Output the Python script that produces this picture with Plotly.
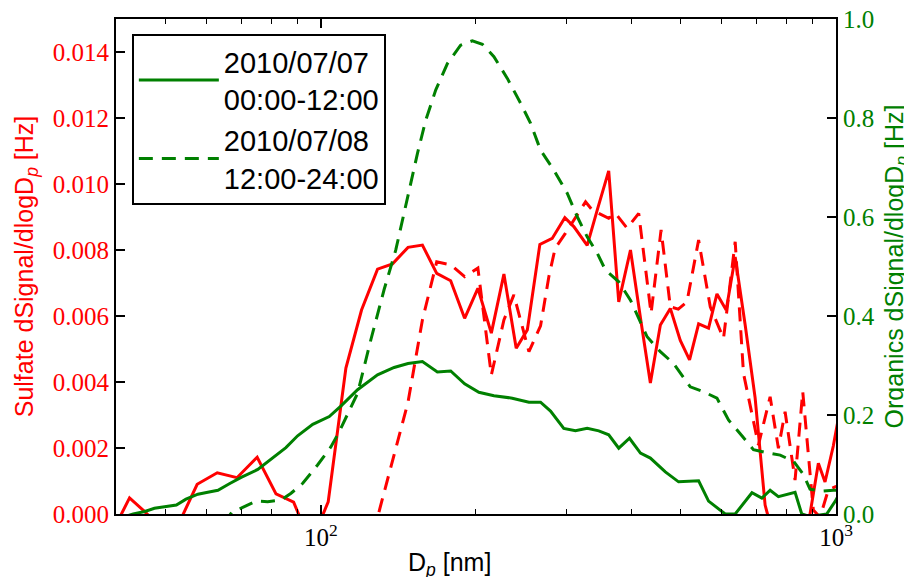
import plotly.graph_objects as go

# Sulfate dSignal/dlogDp [Hz], 2010/07/07 00:00-12:00 (left axis)
d_so4_day1 = [39.2, 42.5, 45.5, 49.4, 53.3, 57.5, 62.9, 68.7, 75.2, 81.8, 88.5, 95.6,
              103.3, 111.8, 119.9, 128.8, 137.7, 147.6, 157.4, 167.8, 178.6, 190.1,
              201.7, 214.2, 226.6, 239.4, 251.6, 266.1, 281.2, 297.5, 309.7, 328.8,
              344.3, 362.0, 378.6, 399.0, 417.2, 436.1, 456.0, 476.8, 498.5, 519.6,
              541.1, 565.7, 587.3, 612.1, 637.2, 666.3, 696.6, 728.4, 771.9, 814.4,
              855.3, 890.4, 924.2, 952.1, 988.0, 1027.1]
so4_day1 = [-0.0006, 0.00049, 0.00007, -0.0005, -0.0002, 0.00090, 0.00125, 0.00110,
            0.00172, 0.00061, 0.00036, -0.0009, 0.00037, 0.00442, 0.00618, 0.00742,
            0.00758, 0.00808, 0.00815, 0.00729, 0.00707, 0.00593, 0.00684, 0.00548,
            0.00727, 0.00502, 0.00558, 0.00817, 0.00835, 0.00898, 0.00871, 0.00814,
            0.00924, 0.01040, 0.00643, 0.00800, 0.00594, 0.00397, 0.00573, 0.00623,
            0.00526, 0.00467, 0.00576, 0.00563, 0.00667, 0.00618, 0.00779, 0.00573,
            0.00352, 0.00027, -0.0012, -0.0015, -0.0008, 0.0000, 0.00154, 0.00097,
            0.00206, 0.0035]

# Sulfate, 2010/07/08 12:00-24:00 (left axis)
d_so4_day2 = [111.8, 119.9, 128.8, 137.7, 147.6, 157.4, 167.8, 178.6, 190.1, 201.7,
              214.2, 226.6, 236.9, 253.4, 266.9, 277.0, 284.9, 298.4, 309.7, 326.4,
              336.3, 362.0, 373.1, 393.0, 414.0, 437.5, 457.5, 476.8, 494.1, 513.6,
              541.1, 570.0, 604.8, 637.2, 661.3, 707.0, 744.9, 773.0, 796.5, 832.8,
              861.8, 903.6, 931.1, 966.2, 995.5, 1027.1]
so4_day2 = [-0.004, -0.002, -0.0001, 0.00158, 0.00339, 0.00588, 0.00764, 0.00755,
            0.00719, 0.00745, 0.00421, 0.00588, 0.00664, 0.00492, 0.00570, 0.00719,
            0.00805, 0.00851, 0.00891, 0.00946, 0.00921, 0.00896, 0.00911, 0.00866,
            0.00911, 0.00608, 0.00861, 0.00628, 0.00621, 0.00643, 0.00830, 0.00628,
            0.00532, 0.00825, 0.00426, 0.00209, 0.00355, 0.00199, 0.00310, 0.00103,
            0.00371, 0.00012, -0.0001, 0.00073, 0.00082, 0.0009]

# Organics dSignal/dlogDp [Hz], 2010/07/07 00:00-12:00 (right axis)
d_org_day1 = [40.2, 43.2, 45.5, 47.5, 49.7, 52.4, 54.7, 57.7, 60.3, 63.1, 66.4, 70.0,
              75.4, 81.2, 85.5, 90.1, 96.4, 103.8, 109.3, 117.8, 128.8, 138.7, 147.6,
              157.4, 168.3, 178.6, 190.1, 202.6, 216.7, 235.2, 253.4, 266.9, 279.1,
              296.1, 312.0, 328.8, 346.3, 362.0, 378.6, 397.2, 417.2, 436.1, 466.3,
              494.7, 541.1, 565.7, 609.4, 637.2, 686.8, 717.9, 744.9, 773.0, 832.8,
              858.0, 890.4, 959.3, 995.5, 1027.1]
org_day1 = [-0.01, 0.0, 0.005, 0.0115, 0.0147, 0.018, 0.030, 0.040, 0.044, 0.048,
            0.061, 0.074, 0.090, 0.115, 0.134, 0.158, 0.181, 0.197, 0.218, 0.251,
            0.281, 0.296, 0.304, 0.308, 0.287, 0.289, 0.263, 0.246, 0.239, 0.234,
            0.226, 0.226, 0.208, 0.173, 0.168, 0.173, 0.168, 0.160, 0.133, 0.153,
            0.123, 0.113, 0.085, 0.065, 0.067, 0.026, 0.0, 0.0, 0.043, 0.032,
            0.048, 0.035, 0.044, 0.0, -0.005, 0.0, 0.025, 0.05]

# Organics, 2010/07/08 12:00-24:00 (right axis)
d_org_day2 = [64.6, 67.1, 70.5, 74.8, 78.8, 83.7, 87.5, 92.2, 98.5, 104.6, 108.5,
              117.8, 125.0, 132.6, 139.7, 148.3, 154.0, 159.8, 167.1, 176.0, 186.7,
              196.8, 205.8, 216.7, 230.1, 244.1, 255.3, 266.9, 283.2, 300.7, 314.4,
              328.8, 343.9, 356.7, 378.6, 399.0, 429.8, 456.0, 483.8, 521.2, 553.2,
              587.3, 618.4, 656.6, 691.4, 734.0, 779.3, 828.0, 864.2, 890.4, 937.0,
              988.0, 1027.1]
org_day2 = [-0.02, 0.003, 0.0135, 0.026, 0.025, 0.028, 0.042, 0.062, 0.099, 0.136,
            0.166, 0.244, 0.352, 0.453, 0.533, 0.655, 0.729, 0.796, 0.857, 0.910,
            0.947, 0.956, 0.949, 0.924, 0.880, 0.830, 0.789, 0.735, 0.695, 0.648,
            0.601, 0.560, 0.527, 0.493, 0.469, 0.432, 0.358, 0.328, 0.304, 0.257,
            0.247, 0.234, 0.190, 0.158, 0.130, 0.124, 0.119, 0.106, 0.080, 0.050,
            0.046, 0.048, 0.048]

legend_names = ["2010/07/07<br>00:00-12:00", "2010/07/08<br>12:00-24:00"]
so4_ticks = [0.0, 0.002, 0.004, 0.006, 0.008, 0.010, 0.012, 0.014]
org_ticks = [0.0, 0.2, 0.4, 0.6, 0.8, 1.0]
x_ticks = [100, 1000]
x_ticktext = ["10<sup>2</sup>", "10<sup>3</sup>"]
x_minor = [40, 50, 60, 70, 80, 90, 200, 300, 400, 500, 600, 700, 800, 900]

RED = "#ff0000"
GREEN = "#008000"
DASH = "14px,9px"
serif = "Liberation Serif"
sans = "Liberation Sans"

fig = go.Figure()
fig.add_trace(go.Scatter(x=d_so4_day1, y=so4_day1, mode="lines", showlegend=False,
                         line=dict(color=RED, width=3)))
fig.add_trace(go.Scatter(x=d_so4_day2, y=so4_day2, mode="lines", showlegend=False,
                         line=dict(color=RED, width=3, dash=DASH)))
fig.add_trace(go.Scatter(x=d_org_day1, y=org_day1, mode="lines", yaxis="y2",
                         name=legend_names[0], line=dict(color=GREEN, width=3)))
fig.add_trace(go.Scatter(x=d_org_day2, y=org_day2, mode="lines", yaxis="y2",
                         name=legend_names[1], line=dict(color=GREEN, width=3, dash=DASH)))

axis_common = dict(showline=True, linecolor="black", linewidth=2, showgrid=False,
                   zeroline=False, ticks="inside", ticklen=9, tickwidth=1.5,
                   tickcolor="black", automargin=False, ticklabeloverflow="allow")

# the page body adds an 8px offset, so the figure is 8px smaller than the window
fig.update_layout(
    width=904, height=569,
    margin=dict(l=108, r=76, t=11, b=63),
    paper_bgcolor="white", plot_bgcolor="white",
    xaxis=dict(type="log", range=[1.6021, 3.0], mirror="ticks",
               tickvals=x_ticks, ticktext=x_ticktext,
               tickfont=dict(family=serif, size=25, color="black"),
               minor=dict(tickvals=x_minor, ticks="inside", ticklen=5,
                          tickwidth=1, tickcolor="black"),
               **axis_common),
    yaxis=dict(range=[0, 0.015], tickvals=so4_ticks, tickformat=".3f",
               tickfont=dict(family=serif, size=25, color=RED),
               title=dict(text="Sulfate dSignal/dlogD<sub><i>p</i></sub> [Hz]",
                          standoff=12, font=dict(family=sans, size=25, color=RED)),
               **axis_common),
    yaxis2=dict(overlaying="y", side="right", range=[0, 1], tickvals=org_ticks,
                tickformat=".1f",
                tickfont=dict(family=serif, size=25, color=GREEN),
                title=dict(text="Organics dSignal/dlogD<sub><i>p</i></sub> [Hz]",
                           standoff=12, font=dict(family=sans, size=25, color=GREEN)),
                **axis_common),
    legend=dict(x=0.022, y=0.97, xanchor="left", yanchor="top",
                bgcolor="white", bordercolor="black", borderwidth=2,
                font=dict(family=sans, size=29, color="black"),
                itemwidth=80),
    annotations=[dict(text="D<sub><i>p</i></sub> [nm]", x=0.4625, y=-0.102,
                      xref="paper", yref="paper", xanchor="center", yanchor="middle",
                      showarrow=False, font=dict(family=sans, size=25, color="black"))],
)

fig.write_html("out.html")
